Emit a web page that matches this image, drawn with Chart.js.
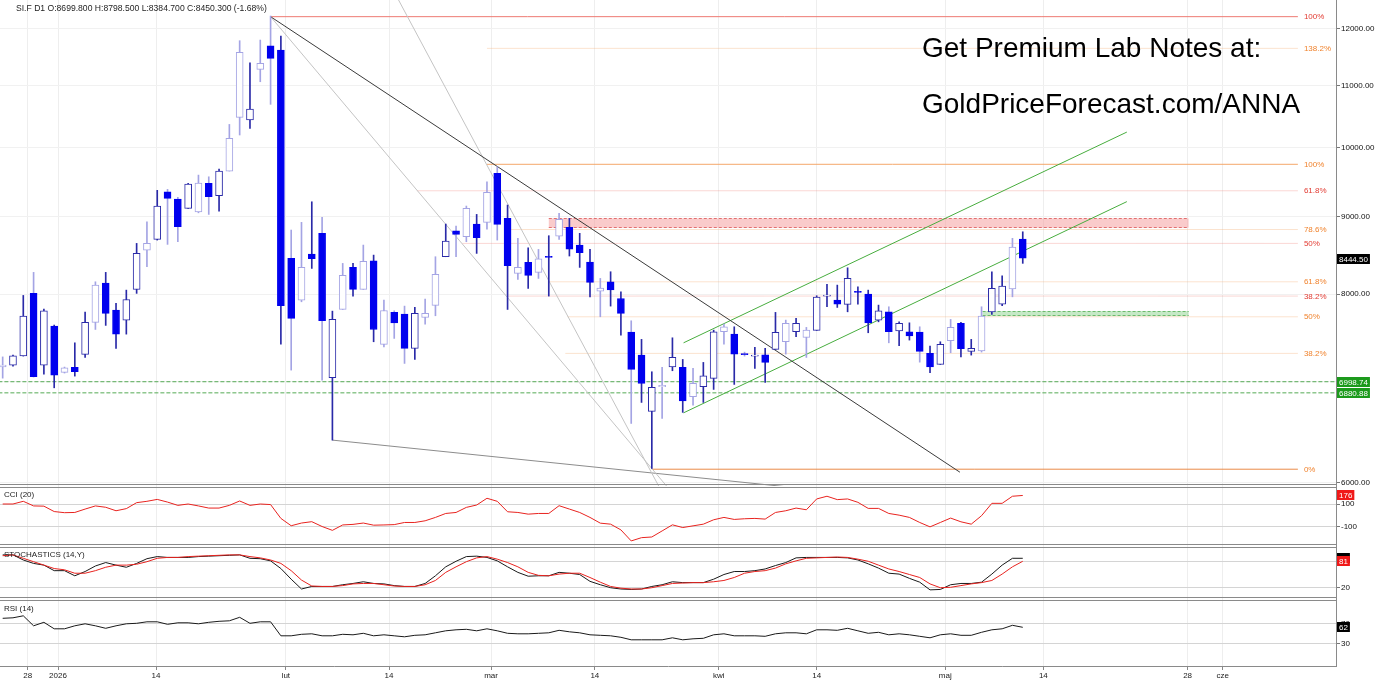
<!DOCTYPE html>
<html>
<head>
<meta charset="utf-8">
<script src="https://cdn.jsdelivr.net/npm/chart.js@4.4.1/dist/chart.umd.min.js"></script>
<style>
  html, body { margin: 0; padding: 0; background: #fff; }
  #wrap { position: relative; width: 1386px; height: 682px; }
</style>
</head>
<body>
<div id="wrap"><canvas id="chart" width="1386" height="682"></canvas></div>
<script>
// SI.F daily candles (one entry per trading session)
const opens = [7160,7179,7281,8009,7179,7619,7099,7153,7297,7662, 8136,7807,7689,8057,8556,8697,9353,9249,9119,9071,
  9473,9296,9653,10478,10435,11274,11688,11612,8449,7927, 8504,8778,7041,7815,8333,8058,8418,7409,7780,7760,
  7364,7720,7863,8470,8813,8732,8903,8926,9620,8980, 8257,8398,8270,8475,8741,8858,8622,8401,8037,8152,
  7947,7549,7289,6689,6945,7160,7153,6840,6945,7034, 7553,7526,7300,7278,7292,7353,7439,7553,7488,7569,
  7976,7927,7875,8028,8000,7689,7787,7564,7553,7549, 7308,7186,7450,7650,7330,7337,7787,7879,8065,8699.8];
const highs = [7269,7289,7984,8270,7819,7631,7157,7427,7783,8152, 8270,7887,8049,8644,8934,9373,9387,9274,9473,9594,
  9569,9683,10365,11778,11389,11790,12230,11863,8822,8926, 9211,8994,7795,8384,8384,8622,8491,7927,7799,7855,
  7839,7939,8470,8903,8876,9151,9035,9497,9716,9165, 8711,8586,8565,8746,9049,8980,8778,8565,8194,8278,
  8028,7681,7466,7106,7153,7484,7241,7142,7208,7572, 7642,7611,7322,7375,7364,7780,7689,7709,7604,7980,
  8120,8111,8328,8090,8049,7867,7847,7669,7657,7611, 7390,7439,7697,7662,7466,7847,8278,8228,8711,8798.5];
const lows = [7037,7168,7278,7049,7081,6934,7092,7059,7263,7580, 7627,7364,7526,8009,8341,8688,8631,8666,9119,9057,
  9035,9081,9653,10199,10304,11063,10688,7413,7124,7907, 8320,7016,6402,7815,7976,8058,7439,7382,7477,7197,
  7241,7642,7740,8470,8470,8666,8513,8835,8688,7815, 8182,8070,8194,7976,8697,8479,8333,7967,7728,7855,
  7515,6567,6781,6131,6617,7117,6679,6754,6781,6917, 7413,6970,7278,7142,6992,7353,7300,7496,7263,7569,
  7847,7839,7787,7879,7542,7669,7427,7394,7458,7211, 7095,7186,7315,7270,7289,7323,7756,7859,7967,8384.7];
const closes = [7179,7281,7736,7052,7799,7070,7149,7106,7662,8111, 7768,7526,7935,8513,8644,9151,9259,8867,9463,9478,
  9282,9653,10147,11571,10611,11379,11466,7859,7709,8333, 8444,7681,7697,8232,8058,8410,7580,7803,7657,7364,
  7768,7768,8245,8674,8764,9119,8719,9344,8899,8354, 8333,8232,8444,8462,8967,8569,8521,8144,8073,8053,
  7768,7132,6981,6939,6960,7263,6798,6981,7062,7553, 7611,7300,7295,7285,7208,7546,7650,7650,7572,7963,
  7982,7879,8194,8022,7657,7799,7553,7650,7507,7330, 7160,7409,7604,7360,7364,7736,8070,8098,8595,8450.3];
// bars the platform draws in its pale shade
const paleBar = [1,0,0,1,0,0,1,0,0,1, 0,0,0,0,1,0,1,1,0,1, 1,0,1,1,0,1,1,0,1,1,
  0,1,0,1,0,1,0,1,1,1, 0,1,1,0,1,1,0,1,1,0, 1,0,1,0,1,0,0,0,1,0,
  0,1,0,0,1,0,0,1,0,0, 1,0,1,0,0,0,1,0,1,0, 0,0,0,0,0,0,1,0,0,1, 0,0,1,0,0,1,0,0,1,0];

// indicators
const cci = [100,100,124,83,81,33,23,25,55,83, 71,40,59,112,124,141,117,88,100,83, 64,64,88,127,88,100,95,-28,-93,-69,
  -57,-100,-134,-86,-81,-69,-88,-86,-83,-64, -64,-49,-19,16,25,70,91,151,124,31, 25,10,16,16,85,55,25,-19,-70,-79,
  -130,-228,-199,-193,-139,-85,-109,-94,-79,-40, -19,-37,-31,-28,-34,25,40,64,49,145, 169,139,145,115,61,61,16,1,-19,-64,
  -103,-64,-25,-58,-79,-4,106,106,169,176];
const stochK = [96,96,84,76,72,59,59,47,57,70, 78,72,67,76,87,92,90,90,90,92, 93,94,95,96,88,87,82,64,39,16,
  22,22,22,26,29,33,29,28,24,22, 22,29,47,68,81,92,93,90,82,68, 55,46,47,47,55,53,50,34,26,19,
  16,15,16,22,26,33,31,31,31,39, 50,57,57,59,63,71,78,89,90,90, 90,90,89,84,75,65,53,51,41,32,
  14,15,26,29,29,32,51,72,88,88];
const stochD = [94,96,88,80,72,64,61,53,53,59, 67,72,72,74,80,88,90,90,92,93, 94,95,96,96,92,89,84,76,59,37,
  23,22,22,24,28,29,29,26,23,22, 22,26,36,55,68,80,89,92,86,78, 68,55,48,47,51,53,53,43,32,22,
  18,16,16,19,24,29,30,31,31,33, 36,43,53,57,59,65,75,82,88,89, 90,91,90,86,81,72,63,57,50,43,
  28,19,20,24,28,31,36,51,68,81];
const rsi = [80,81,85,65,72,59,59,65,69,65, 60,65,69,70,73,73,68,71,71,69, 72,74,75,82,70,73,73,45,45,48,
  49,45,45,48,47,50,45,47,45,43, 46,47,51,55,57,58,55,59,55,50, 49,49,50,51,56,53,51,47,46,45,
  42,37,37,37,37,41,37,39,40,47, 49,45,45,45,44,49,51,51,49,57, 57,56,60,55,50,52,47,49,47,44,
  41,47,49,46,46,52,57,59,66,62];

// time axis: session index of each label
const dateTickPos = [2.43, 5.37, 14.88, 27.48, 37.5, 47.4, 57.47, 69.49, 79.0, 91.48, 101.0, 115.0, 118.4];
const dateTickLabels = ['28', '2026', '14', 'lut', '14', 'mar', '14', 'kwi', '14', 'maj', '14', '28', 'cze'];
const priceTicks = [6000, 7000, 8000, 9000, 10000, 11000, 12000];
const lastPrice = 8444.5;

// drawing tools on the price pane (session index, price)
const fibLevels = [
  { label: '100%',   price: 12218, from: 26,   set: 'red' },
  { label: '138.2%', price: 11641, from: 47,   set: 'orange' },
  { label: '100%',   price: 9753,  from: 47,   set: 'orange' },
  { label: '61.8%',  price: 9367,  from: 40.2, set: 'red' },
  { label: '78.6%',  price: 8829,  from: 49.3, set: 'orange' },
  { label: '50%',    price: 8644,  from: 44.6, set: 'red' },
  { label: '61.8%',  price: 8152,  from: 53,   set: 'orange' },
  { label: '38.2%',  price: 7976,  from: 49,   set: 'red' },
  { label: '50%',    price: 7728,  from: 54.8, set: 'orange' },
  { label: '38.2%',  price: 7308,  from: 54.6, set: 'orange' },
  { label: '0%',     price: 6124,  from: 63,   set: 'orange' }
];
const fibEnd = 125.7;
const supportLevels = [6998.74, 6880.88];
const zones = [
  { kind: 'res', from: 53, to: 115.1, hi: 8980, lo: 8853 },
  { kind: 'sup', from: 95.1, to: 115.1, hi: 7795, lo: 7736 }
];
const downTrend = [{ x: 26, y: 12218 }, { x: 92.9, y: 6096 }];
const fanA = [{ x: 26, y: 12218 }, { x: 64.6, y: 5950 }];
const fanB = [{ x: 37.9, y: 12726 }, { x: 63.8, y: 5945 }];
const lowLine = [{ x: 32, y: 6402 }, { x: 76.9, y: 5954 }];
const channelUp = [{ x: 66.08, y: 7427 }, { x: 109.1, y: 10245 }];
const channelLo = [{ x: 66.08, y: 6674 }, { x: 109.1, y: 9213 }];

const FONT = '"Liberation Sans", Arial, Helvetica, sans-serif';
Chart.defaults.font.family = FONT;
Chart.defaults.font.size = 8;
Chart.defaults.color = '#111';

const DARK = '#2a2aa8', PALE = '#a4a4e4', FILL = '#0000ee';
const up = i => closes[i] >= opens[i];
const edge = i => paleBar[i] ? PALE : DARK;

const idx = opens.map((_, i) => i);
const line = (data, color, axis, extra) => Object.assign({
  type: 'line', data, borderColor: color, borderWidth: 1, pointRadius: 0,
  tension: 0, yAxisID: axis, clip: 0
}, extra || {});

const fibColor = f => {
  const solid = f.label === '100%' || f.label === '0%';
  if (f.set === 'red') return solid ? '#ee7a72' : 'rgba(238,122,114,0.3)';
  return solid ? (f.label === '0%' ? '#ea8a48' : '#f4a76a') : 'rgba(244,167,106,0.32)';
};

const datasets = [
  // candle bodies
  {
    type: 'bar', yAxisID: 'y', grouped: false, barThickness: 7, minBarLength: 1,
    borderWidth: 1, borderSkipped: false,
    data: idx.map(i => ({ x: i, y: [opens[i], closes[i]] })),
    backgroundColor: idx.map(i => up(i) ? '#ffffff' : FILL),
    borderColor: idx.map(i => up(i) ? edge(i) : FILL)
  },
  // wicks
  {
    type: 'bar', yAxisID: 'y', grouped: false, barThickness: 1, borderWidth: 0,
    data: idx.map(i => ({ x: i, y: [lows[i], highs[i]] })),
    backgroundColor: idx.map(i => edge(i))
  },
  line(downTrend, '#3a3a3a', 'y'),
  line(fanA, '#c4c4c4', 'y'),
  line(fanB, '#c4c4c4', 'y'),
  line(lowLine, '#8c8c8c', 'y'),
  line(channelUp, '#47ad3e', 'y'),
  line(channelLo, '#47ad3e', 'y'),
  ...supportLevels.map(p => line([{ x: -1, y: p }, { x: 131, y: p }], '#55aa55', 'y', { borderDash: [4, 2] })),
  ...fibLevels.map(f => line([{ x: f.from, y: f.price }, { x: fibEnd, y: f.price }], fibColor(f), 'y')),
  line(idx.map(i => ({ x: i, y: cci[i] })), '#e8231f', 'cci'),
  line(idx.map(i => ({ x: i, y: stochD[i] })), '#e8231f', 'stoch'),
  line(idx.map(i => ({ x: i, y: stochK[i] })), '#1a1a1a', 'stoch'),
  line(idx.map(i => ({ x: i, y: rsi[i] })), '#1a1a1a', 'rsi')
];

function fixWidth(s) { s.width = 50; s.paddingTop = 0; s.paddingBottom = 0; }
function paneAxis(weight, min, max, ticks, gridColor, fmt) {
  return {
    type: 'linear', position: 'right', stack: 'panes', stackWeight: weight,
    min, max, bounds: 'data', beginAtZero: false,
    afterBuildTicks: s => { s.ticks = ticks.map(v => ({ value: v })); },
    afterFit: fixWidth,
    ticks: { callback: fmt || (v => String(v)), padding: 1, color: '#111', font: { size: 8 } },
    grid: { color: gridColor, tickLength: 4, tickColor: '#777' },
    border: { color: '#8a8a8a' }
  };
}

function tag(ctx, text, y, bg, left) {
  ctx.font = '8px ' + FONT;
  const w = ctx.measureText(text).width + 4;
  ctx.fillStyle = bg;
  ctx.fillRect(left, Math.round(y) - 5, w, 10);
  ctx.fillStyle = '#fff';
  ctx.textAlign = 'left';
  ctx.textBaseline = 'middle';
  ctx.fillText(text, left + 2, Math.round(y) + 0.5);
}

const overlay = {
  id: 'overlay',
  beforeDatasetsDraw(chart) {
    const { ctx, scales: { x, y } } = chart;
    ctx.save();
    zones.forEach(z => {
      const l = x.getPixelForValue(z.from), r = x.getPixelForValue(z.to);
      const t = y.getPixelForValue(z.hi), b = y.getPixelForValue(z.lo);
      ctx.fillStyle = z.kind === 'res' ? 'rgba(246,160,160,0.55)' : 'rgba(160,218,160,0.6)';
      ctx.fillRect(l, t, r - l, b - t);
      ctx.strokeStyle = z.kind === 'res' ? '#e27070' : '#6cba6c';
      ctx.lineWidth = 1;
      ctx.setLineDash([3, 2]);
      ctx.beginPath();
      ctx.moveTo(l, Math.round(t) + 0.5); ctx.lineTo(r, Math.round(t) + 0.5);
      ctx.moveTo(l, Math.round(b) - 0.5); ctx.lineTo(r, Math.round(b) - 0.5);
      ctx.stroke();
    });
    ctx.restore();
  },
  afterDraw(chart) {
    const { ctx, chartArea, scales } = chart;
    const { x, y, cci: c, stoch: s, rsi: r } = scales;
    ctx.save();
    // pane separators
    ctx.strokeStyle = '#8a8a8a';
    ctx.lineWidth = 1;
    [y, c, s].forEach(sc => {
      const b = Math.round(sc.bottom);
      ctx.beginPath();
      ctx.moveTo(0, b - 1.5); ctx.lineTo(chartArea.right, b - 1.5);
      ctx.moveTo(0, b + 1.5); ctx.lineTo(chartArea.right, b + 1.5);
      ctx.stroke();
    });
    // fib labels
    ctx.font = '8px ' + FONT;
    ctx.textAlign = 'left';
    ctx.textBaseline = 'middle';
    fibLevels.forEach(f => {
      ctx.fillStyle = f.set === 'red' ? '#e23b32' : '#f0832e';
      ctx.fillText(f.label, x.getPixelForValue(fibEnd) + 6, y.getPixelForValue(f.price) + 0.5);
    });
    // pane titles
    ctx.fillStyle = '#222';
    ctx.textBaseline = 'alphabetic';
    ctx.fillText('CCI (20)', 4, c.top + 11);
    ctx.fillText('STOCHASTICS (14,Y)', 4, s.top + 11);
    ctx.fillText('RSI (14)', 4, r.top + 12);
    // header
    const n = closes.length - 1;
    const chg = (closes[n] - closes[n - 1]) / closes[n - 1] * 100;
    ctx.font = '8.6px ' + FONT;
    ctx.fillStyle = '#1e1e1e';
    ctx.fillText('SI.F D1 O:' + opens[n].toFixed(3) + ' H:' + highs[n].toFixed(3) + ' L:' + lows[n].toFixed(3) +
      ' C:' + closes[n].toFixed(3) + ' (' + chg.toFixed(2) + '%)', 16, 10.5);
    // promo text
    ctx.font = '28px ' + FONT;
    ctx.fillStyle = '#000';
    ctx.fillText('Get Premium Lab Notes at:', 922, 57);
    ctx.fillText('GoldPriceForecast.com/ANNA', 922, 113);
    // value tags on the right axis
    const left = chartArea.right + 1;
    tag(ctx, lastPrice.toFixed(2), y.getPixelForValue(lastPrice), '#000', left);
    supportLevels.forEach(p => tag(ctx, p.toFixed(2), y.getPixelForValue(p), '#1c9a1c', left));
    tag(ctx, String(cci[n]), c.getPixelForValue(cci[n]), '#f01818', left);
    tag(ctx, String(stochK[n]), s.getPixelForValue(stochK[n]), '#000', left);
    tag(ctx, String(stochD[n]), s.getPixelForValue(stochD[n]), '#f01818', left);
    tag(ctx, String(rsi[n]), r.getPixelForValue(rsi[n]), '#000', left);
    ctx.restore();
  }
};

new Chart(document.getElementById('chart'), {
  type: 'bar',
  data: { datasets },
  plugins: [overlay],
  options: {
    responsive: false,
    maintainAspectRatio: false,
    animation: false,
    events: [],
    layout: { padding: 0 },
    plugins: { legend: { display: false }, tooltip: { enabled: false } },
    scales: {
      x: {
        type: 'linear', min: -0.26, max: 129.4, offset: false, bounds: 'data',
        afterBuildTicks: s => { s.ticks = dateTickPos.map(v => ({ value: v })); },
        afterFit: s => { s.height = 16; s.paddingLeft = 0; s.paddingRight = 0; },
        ticks: { callback: (v, i) => dateTickLabels[i], autoSkip: false, maxRotation: 0, padding: 1, color: '#222', font: { size: 8 } },
        grid: { offset: false, color: '#eeeeee', tickLength: 4, tickColor: '#888' },
        border: { color: '#8a8a8a' }
      },
      y: {
        type: 'logarithmic', position: 'right', stack: 'panes', stackWeight: 486,
        min: 5969, max: 12533, bounds: 'data',
        afterBuildTicks: s => { s.ticks = priceTicks.map(v => ({ value: v })); },
        afterFit: fixWidth,
        ticks: { callback: v => Number(v).toFixed(2), padding: 1, color: '#111', font: { size: 8 } },
        grid: { color: '#f1f1f1', tickLength: 4, tickColor: '#777' },
        border: { color: '#8a8a8a' }
      },
      cci: paneAxis(60, -273, 260, [100, -100], '#d4d4d4'),
      stoch: paneAxis(53, -7.4, 116.8, [80, 20], '#d4d4d4'),
      rsi: paneAxis(67, -15.4, 118.6, [70, 30], '#d4d4d4')
    }
  }
});
</script>
</body>
</html>
